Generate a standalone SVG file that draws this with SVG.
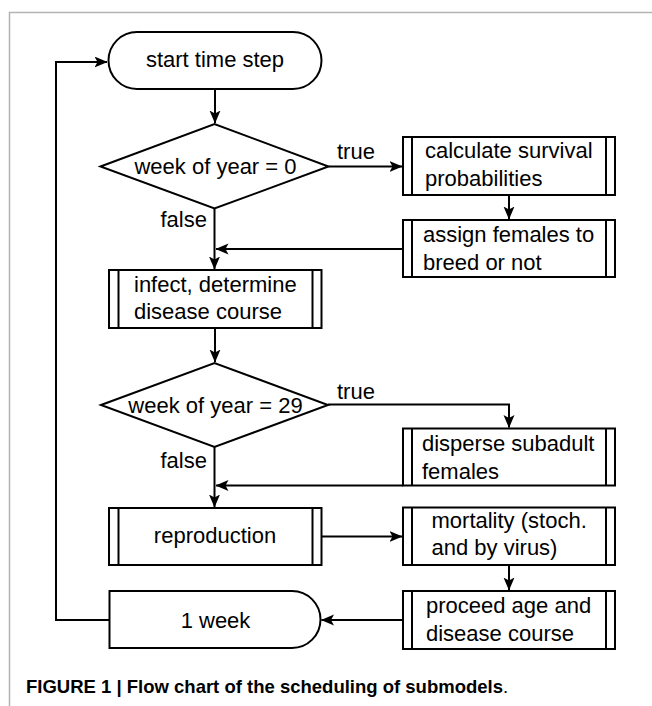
<svg xmlns="http://www.w3.org/2000/svg" width="652" height="706" viewBox="0 0 652 706">
<style>
.shape{fill:#fff;stroke:#000;stroke-width:2}
.inner{stroke:#000;stroke-width:2;fill:none}
.conn{fill:none;stroke:#000;stroke-width:2}
.t{font-family:"Liberation Sans",Arial,sans-serif;font-size:22px;fill:#000}
.c{text-anchor:middle}
.cap{font-family:"Liberation Sans",Arial,sans-serif;font-size:18.5px;fill:#000}
</style>
<defs>
<marker id="ah" markerUnits="userSpaceOnUse" markerWidth="14" markerHeight="12" refX="12.5" refY="5.5" orient="auto">
<path d="M0,0 L13,5.5 L0,11 L3,5.5 Z" fill="#000"/>
</marker>
</defs>
<rect width="652" height="706" fill="#fff"/>
<path d="M9.5,706 V12.5 H652" fill="none" stroke="#b3b3b3" stroke-width="1.5"/>

<g id="connectors">
<path class="conn" d="M215,89 V123" marker-end="url(#ah)"/>
<path class="conn" d="M110,620 H56 V62 H107" marker-end="url(#ah)"/>
<path class="conn" d="M328.5,166.5 H402" marker-end="url(#ah)"/>
<path class="conn" d="M509,195 V219" marker-end="url(#ah)"/>
<path class="conn" d="M403,249 H216" marker-end="url(#ah)"/>
<path class="conn" d="M214.5,208 V269" marker-end="url(#ah)"/>
<path class="conn" d="M215,328 V362" marker-end="url(#ah)"/>
<path class="conn" d="M328,404.5 H509 V427.5" marker-end="url(#ah)"/>
<path class="conn" d="M403,485.5 H216" marker-end="url(#ah)"/>
<path class="conn" d="M214.5,447 V507" marker-end="url(#ah)"/>
<path class="conn" d="M321.5,536.5 H402" marker-end="url(#ah)"/>
<path class="conn" d="M509,565 V590" marker-end="url(#ah)"/>
<path class="conn" d="M403,620 H321.5" marker-end="url(#ah)"/>
</g>

<g id="start">
<rect class="shape" x="108.5" y="32" width="213" height="57" rx="28.5" ry="28.5"/>
<text class="t c" x="215" y="67">start time step</text>
</g>

<g id="decision1">
<polygon class="shape" points="100.5,166.5 214.5,124 328.5,166.5 214.5,208.5"/>
<text class="t c" x="215.5" y="174">week of year = 0</text>
<text class="t" x="337" y="159">true</text>
<text class="t" x="160.5" y="226.5">false</text>
</g>

<g id="calc">
<rect class="shape" x="403" y="137" width="212" height="58"/>
<path class="inner" d="M412,137 V195 M606,137 V195"/>
<text class="t" x="425" y="158">calculate survival</text>
<text class="t" x="425" y="185.5">probabilities</text>
</g>

<g id="assign">
<rect class="shape" x="403" y="220" width="212" height="57"/>
<path class="inner" d="M412,220 V277 M606,220 V277"/>
<text class="t" x="423" y="242">assign females to</text>
<text class="t" x="423" y="270">breed or not</text>
</g>

<g id="infect">
<rect class="shape" x="109" y="270" width="212.5" height="58"/>
<path class="inner" d="M118.5,270 V328 M312.5,270 V328"/>
<text class="t" x="134" y="291.5">infect, determine</text>
<text class="t" x="134" y="319">disease course</text>
</g>

<g id="decision2">
<polygon class="shape" points="101,405 214.5,363 328,405 214.5,447"/>
<text class="t c" x="215.5" y="413">week of year = 29</text>
<text class="t" x="337" y="399">true</text>
<text class="t" x="160.5" y="468">false</text>
</g>

<g id="disperse">
<rect class="shape" x="403" y="428.5" width="212" height="57"/>
<path class="inner" d="M412,428.5 V485.5 M606,428.5 V485.5"/>
<text class="t" x="422" y="451">disperse subadult</text>
<text class="t" x="422" y="479">females</text>
</g>

<g id="reproduction">
<rect class="shape" x="109" y="508" width="212.5" height="57"/>
<path class="inner" d="M118.5,508 V565 M312.5,508 V565"/>
<text class="t c" x="215" y="543">reproduction</text>
</g>

<g id="mortality">
<rect class="shape" x="403" y="507.5" width="212" height="57.5"/>
<path class="inner" d="M412,507.5 V565 M606,507.5 V565"/>
<text class="t" x="431.5" y="527.5">mortality (stoch.</text>
<text class="t" x="431.5" y="555">and by virus)</text>
</g>

<g id="proceed">
<rect class="shape" x="403" y="591" width="212" height="58"/>
<path class="inner" d="M412,591 V649 M606,591 V649"/>
<text class="t" x="426" y="613">proceed age and</text>
<text class="t" x="426" y="641">disease course</text>
</g>

<g id="week">
<path class="shape" d="M109.5,591 H292 A28.5,28.5 0 0 1 292,648 H109.5 Z"/>
<text class="t c" x="215.5" y="628">1 week</text>
</g>

<g id="caption">
<text class="cap" x="26" y="693"><tspan font-weight="bold">FIGURE 1 | Flow chart of the scheduling of submodels</tspan>.</text>
</g>
</svg>
